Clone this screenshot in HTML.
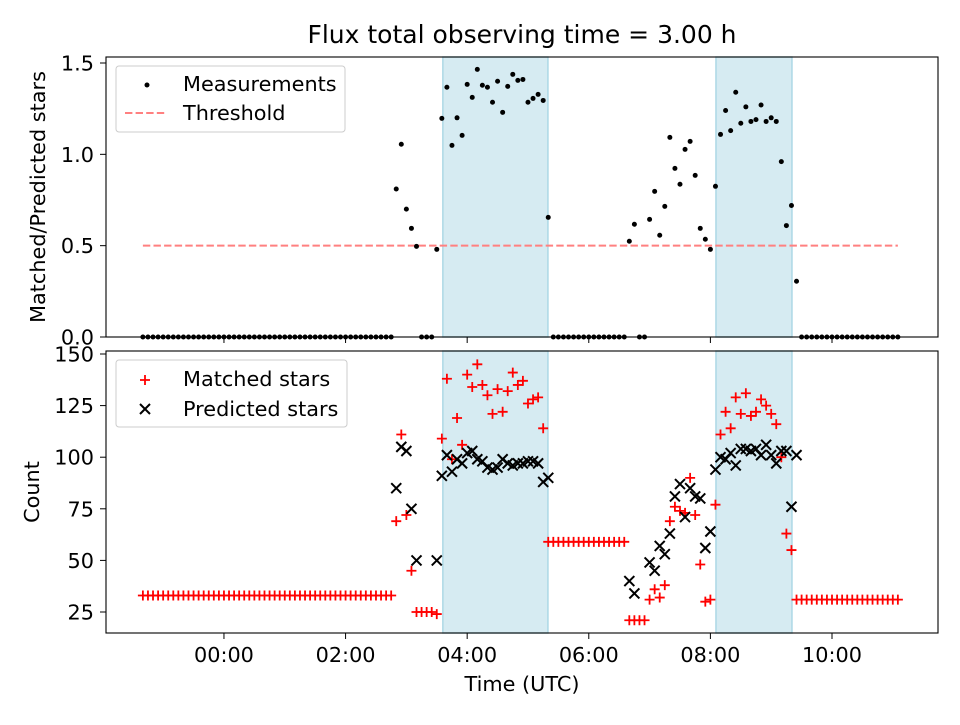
<!DOCTYPE html>
<html><head><meta charset="utf-8"><style>
body{margin:0;background:#fff;}
svg{font-family:"DejaVu Sans","Liberation Sans",sans-serif;}
</style></head><body>
<svg id="chart" width="960" height="720" viewBox="0 0 960 720" xmlns="http://www.w3.org/2000/svg"></svg>
<script>
// data: index i -> time = -80 + 5*i minutes from 00:00 UTC
const startMinute = -80;
const stepMinute = 5;
const ratioValues = [0,0,0,0,0,0,0,0,0,0,0,0,0,0,0,0,0,0,0,0,0,0,0,0,0,0,0,0,0,0,0,0,0,0,0,0,0,0,0,0,0,0,0,0,0,0,0,0,0,0,
0.81,1.055,0.70,0.595,0.496,0,0,0,0.48,1.197,1.367,1.049,1.20,1.104,1.383,1.312,1.465,1.378,1.367,1.285,1.40,1.23,1.372,1.438,1.405,1.41,1.285,1.306,1.328,1.295,0.655,
0,0,0,0,0,0,0,0,0,0,0,0,0,0,0,
0.524,0.617,0,0,0.644,0.797,0.557,0.715,1.093,0.923,0.836,1.027,1.071,0.885,0.595,0.535,0.48,0.825,1.109,1.24,1.13,1.34,1.17,1.26,1.18,1.19,1.27,1.18,1.20,1.18,0.96,0.61,0.72,0.305,
0,0,0,0,0,0,0,0,0,0,0,0,0,0,0,0,0,0,0,0];
const matchedValues = [33,33,33,33,33,33,33,33,33,33,33,33,33,33,33,33,33,33,33,33,33,33,33,33,33,33,33,33,33,33,33,33,33,33,33,33,33,33,33,33,33,33,33,33,33,33,33,33,33,33,
69,111,72,45,25,25,25,25,24,109,138,99,119,106,140,134,145,135,130,121,133,122,132,141,135,137,126,128,129,114,
59,59,59,59,59,59,59,59,59,59,59,59,59,59,59,59,
21,21,21,21,
31,36,32,38,69,76,74,73,90,72,48,30,31,77,111,122,114,129,121,131,120,122,128,125,121,116,100,63,55,31,
31,31,31,31,31,31,31,31,31,31,31,31,31,31,31,31,31,31,31,31];
const predictedValues = [null,null,null,null,null,null,null,null,null,null,null,null,null,null,null,null,null,null,null,null,null,null,null,null,null,null,null,null,null,null,null,null,null,null,null,null,null,null,null,null,null,null,null,null,null,null,null,null,null,null,
85,105,103,75,50,null,null,null,50,91,101,93,99,97,102,103,99,98,95,94,95,99,97,96,97,97,98,98,97,88,90,
null,null,null,null,null,null,null,null,null,null,null,null,null,null,null,
40,34,null,null,49,45,57,53,63,81,87,71,85,81,80,56,64,94,100,99,102,96,104,104,103,104,101,106,101,97,103,103,76,101,
null,null,null,null,null,null,null,null,null,null,null,null,null,null,null,null,null,null,null,null];
const shadeSpans = [[216,319.7],[485.5,560.5]];
const thresholdValue = 0.5;
const xTickMinutes = [0,120,240,360,480,600];
const xTickLabels = ["00:00","02:00","04:00","06:00","08:00","10:00"];
const topTicks = [0,0.5,1.0,1.5];
const topTickLabels = ["0.0","0.5","1.0","1.5"];
const bottomTicks = [25,50,75,100,125,150];

const NS="http://www.w3.org/2000/svg";
const svg=document.getElementById('chart');
function mk(tag,attrs,parent){const e=document.createElementNS(NS,tag);for(const k in attrs)e.setAttribute(k,attrs[k]);(parent||svg).appendChild(e);return e;}
const L=106,R=938;
const xMin=-116.4,xMax=704.6;
function X(m){return L+(m-xMin)/(xMax-xMin)*(R-L);}
const T1=57,B1=337,T2=351,B2=633;
function Y1(v){return 337-v/1.5*274;}
function Y2(v){return 612-(v-25)*2.064;}
function tMin(i){return startMinute+stepMinute*i;}
const DASH='7.4,3.2';
const THC='#ff8080';
const FS='20.8';

let t=mk('text',{x:522,y:43,'text-anchor':'middle','font-size':'25',fill:'#000'});t.textContent='Flux total observing time = 3.00 h';



function panel(top,bot,name){
  const g=mk('g',{});
  
  
  shadeSpans.forEach((s,k)=>{
    const r=mk('rect',{x:X(s[0]),y:top,width:X(s[1])-X(s[0]),height:bot-top,fill:'#add8e6','fill-opacity':0.5,stroke:'#add8e6','stroke-width':1.5},g);
    
    
  });
  return g;
}
function frame(top,bot){mk('rect',{x:L,y:top,width:R-L,height:bot-top,fill:'none',stroke:'#000','stroke-width':1.1});}

const g1=panel(T1,B1,'ratio-panel');
const th=mk('line',{x1:X(tMin(0)),x2:X(tMin(ratioValues.length-1)),y1:Y1(thresholdValue),y2:Y1(thresholdValue),stroke:THC,'stroke-width':2,'stroke-dasharray':DASH},g1);


ratioValues.forEach((v,i)=>{
  const c=mk('circle',{cx:X(tMin(i)),cy:Y1(v),r:2.5,fill:'#000'},g1);
  
  
});
frame(T1,B1);
topTicks.forEach((v,k)=>{
  mk('line',{x1:L-6,x2:L,y1:Y1(v),y2:Y1(v),stroke:'#000'});
  const tx=mk('text',{x:L-12,y:Y1(v)+7.5,'text-anchor':'end','font-size':FS});tx.textContent=topTickLabels[k];
  
  
});
xTickMinutes.forEach(m=>mk('line',{x1:X(m),x2:X(m),y1:B1,y2:B1+6,stroke:'#000'}));
let yt=mk('text',{x:0,y:0,'text-anchor':'middle','font-size':FS,transform:'translate(45,197) rotate(-90)'});yt.textContent='Matched/Predicted stars';



const g2=panel(T2,B2,'count-panel');
matchedValues.forEach((v,i)=>{
  if(v==null)return;
  const x=X(tMin(i)),y=Y2(v);
  const p=mk('path',{d:`M${x-5},${y}H${x+5}M${x},${y-5}V${y+5}`,stroke:'#ff0000','stroke-width':1.8,fill:'none'},g2);
  
  
});
predictedValues.forEach((v,i)=>{
  if(v==null)return;
  const x=X(tMin(i)),y=Y2(v);
  const p=mk('path',{d:`M${x-5},${y-5}L${x+5},${y+5}M${x-5},${y+5}L${x+5},${y-5}`,stroke:'#000','stroke-width':2,fill:'none'},g2);
  
  
});
frame(T2,B2);
bottomTicks.forEach(v=>{
  mk('line',{x1:L-6,x2:L,y1:Y2(v),y2:Y2(v),stroke:'#000'});
  const tx=mk('text',{x:L-12,y:Y2(v)+7.5,'text-anchor':'end','font-size':FS});tx.textContent=String(v);
  
  
});
xTickMinutes.forEach((m,k)=>{
  mk('line',{x1:X(m),x2:X(m),y1:B2,y2:B2+6,stroke:'#000'});
  const tx=mk('text',{x:X(m),y:B2+29,'text-anchor':'middle','font-size':FS});tx.textContent=xTickLabels[k];
  
  
});
let yt2=mk('text',{x:0,y:0,'text-anchor':'middle','font-size':FS,transform:'translate(39,492) rotate(-90)'});yt2.textContent='Count';


let xt=mk('text',{x:522,y:691,'text-anchor':'middle','font-size':FS});xt.textContent='Time (UTC)';



const lg1=mk('g',{});


mk('rect',{x:116,y:66,width:229,height:66,rx:3,fill:'#fff','fill-opacity':0.8,stroke:'#ccc'},lg1);
mk('circle',{cx:147,cy:85,r:2.5,fill:'#000'},lg1);
let a=mk('text',{x:183,y:91,'font-size':FS},lg1);a.textContent='Measurements';
mk('line',{x1:125,x2:167,y1:113,y2:113,stroke:THC,'stroke-width':2,'stroke-dasharray':DASH},lg1);
a=mk('text',{x:183,y:120,'font-size':FS},lg1);a.textContent='Threshold';

const lg2=mk('g',{});


mk('rect',{x:116,y:360,width:231,height:67,rx:3,fill:'#fff','fill-opacity':0.8,stroke:'#ccc'},lg2);
mk('path',{d:'M140,380H150M145,375V385',stroke:'#ff0000','stroke-width':1.8},lg2);
a=mk('text',{x:183,y:386,'font-size':FS},lg2);a.textContent='Matched stars';
mk('path',{d:'M140,404L150,414M140,414L150,404',stroke:'#000','stroke-width':2},lg2);
a=mk('text',{x:183,y:416,'font-size':FS},lg2);a.textContent='Predicted stars';
</script>
</body></html>
